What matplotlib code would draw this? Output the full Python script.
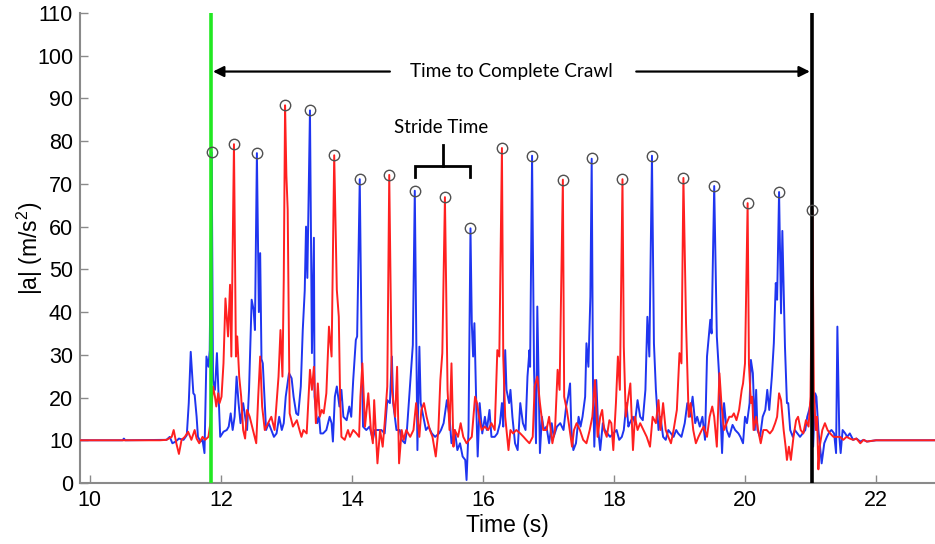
import matplotlib
matplotlib.use("Agg")
import matplotlib.pyplot as plt

plt.rcParams['font.family'] = ['Liberation Sans', 'DejaVu Sans']
plt.rcParams['mathtext.default'] = 'regular'

# ---------------- data (time s, |a| m/s^2) ----------------
blue_trace = [
    (9.85, 10.0), (10.50, 10.0), (10.52, 10.4), (10.54, 10.0), (11.07, 10.1), (11.17, 10.1), (11.22, 10.8),
    (11.26, 9.3), (11.31, 9.7), (11.36, 10.4), (11.43, 10.1), (11.48, 11.2), (11.51, 18.7), (11.54, 30.7),
    (11.58, 21.0), (11.60, 20.6), (11.63, 15.5), (11.65, 10.8), (11.69, 9.7), (11.72, 10.1), (11.75, 7.0),
    (11.78, 29.6), (11.81, 27.2), (11.83, 31.1), (11.86, 77.4), (11.88, 24.1), (11.91, 21.8), (11.94, 30.4),
    (11.96, 22.6), (11.99, 10.8), (12.04, 12.0), (12.09, 12.4), (12.12, 13.2), (12.15, 16.3), (12.18, 12.4),
    (12.21, 15.5), (12.24, 24.9), (12.27, 18.7), (12.30, 14.0), (12.34, 18.7), (12.37, 15.5), (12.40, 12.4),
    (12.43, 21.8), (12.47, 42.9), (12.50, 40.5), (12.52, 35.8), (12.55, 77.2), (12.58, 40.0), (12.60, 53.8),
    (12.62, 29.0), (12.64, 28.0), (12.69, 12.4), (12.73, 14.0), (12.77, 12.4), (12.81, 10.8), (12.85, 11.6),
    (12.89, 15.5), (12.93, 12.4), (12.96, 14.0), (12.99, 20.2), (13.04, 25.7), (13.08, 24.5), (13.11, 20.2),
    (13.15, 16.3), (13.18, 15.9), (13.22, 22.6), (13.25, 35.8), (13.28, 45.0), (13.30, 60.0), (13.32, 48.0),
    (13.36, 87.2), (13.39, 30.4), (13.42, 57.4), (13.43, 20.2), (13.47, 14.0), (13.50, 15.5), (13.52, 11.6),
    (13.56, 11.6), (13.61, 12.4), (13.66, 15.5), (13.69, 14.0), (13.71, 9.7), (13.74, 20.2), (13.77, 22.6),
    (13.81, 17.9), (13.84, 21.8), (13.87, 15.5), (13.92, 14.7), (13.96, 17.9), (13.99, 15.5), (14.02, 24.1),
    (14.06, 33.5), (14.08, 34.3), (14.12, 71.1), (14.15, 29.6), (14.17, 13.2), (14.22, 12.4), (14.27, 13.2),
    (14.32, 10.1), (14.35, 12.4), (14.40, 12.4), (14.45, 12.4), (14.50, 11.6), (14.54, 19.4), (14.58, 18.7),
    (14.61, 29.6), (14.63, 18.7), (14.68, 12.4), (14.73, 12.4), (14.76, 10.1), (14.81, 9.3), (14.84, 12.4),
    (14.89, 23.3), (14.93, 32.3), (14.96, 68.4), (15.00, 7.7), (15.03, 31.9), (15.05, 18.7), (15.09, 15.5),
    (15.13, 12.4), (15.17, 13.2), (15.22, 11.6), (15.27, 10.8), (15.33, 11.6), (15.36, 12.4), (15.40, 14.0),
    (15.45, 19.4), (15.49, 15.5), (15.52, 9.3), (15.57, 12.4), (15.61, 7.7), (15.65, 9.3), (15.69, 6.2),
    (15.73, 5.4), (15.75, 0.7), (15.78, 12.4), (15.81, 59.6), (15.83, 37.4), (15.85, 29.6), (15.87, 37.4),
    (15.90, 17.1), (15.92, 6.2), (15.95, 18.7), (15.99, 11.6), (16.03, 15.5), (16.06, 12.4), (16.10, 17.1),
    (16.13, 10.8), (16.18, 10.8), (16.22, 11.6), (16.26, 14.0), (16.29, 18.7), (16.31, 13.2), (16.34, 31.1),
    (16.36, 21.8), (16.40, 18.7), (16.42, 21.8), (16.45, 15.5), (16.49, 9.3), (16.53, 7.7), (16.57, 18.7),
    (16.61, 14.0), (16.65, 12.4), (16.68, 24.9), (16.71, 31.1), (16.72, 27.2), (16.75, 76.6), (16.78, 26.5),
    (16.81, 9.3), (16.83, 41.3), (16.85, 24.1), (16.87, 7.0), (16.90, 15.5), (16.93, 12.4), (16.97, 13.2),
    (17.01, 9.3), (17.05, 14.0), (17.08, 10.8), (17.13, 13.2), (17.18, 14.0), (17.23, 12.4), (17.27, 17.9),
    (17.30, 20.2), (17.33, 23.3), (17.35, 12.4), (17.38, 7.7), (17.42, 9.3), (17.46, 15.5), (17.49, 13.2),
    (17.52, 15.5), (17.56, 20.2), (17.58, 32.7), (17.61, 27.2), (17.64, 43.6), (17.66, 75.9), (17.68, 23.3),
    (17.70, 8.5), (17.73, 24.1), (17.76, 12.4), (17.79, 7.7), (17.83, 14.0), (17.86, 12.4), (17.90, 11.6),
    (17.94, 10.8), (17.99, 11.6), (18.04, 12.4), (18.08, 10.1), (18.12, 10.8), (18.15, 12.4), (18.19, 18.7),
    (18.22, 13.2), (18.24, 14.0), (18.29, 15.5), (18.32, 14.0), (18.36, 19.4), (18.40, 15.5), (18.44, 14.7),
    (18.48, 21.8), (18.51, 38.9), (18.54, 29.6), (18.58, 76.6), (18.61, 32.7), (18.64, 21.8), (18.68, 12.4),
    (18.71, 15.5), (18.75, 10.8), (18.79, 10.1), (18.83, 12.4), (18.87, 11.6), (18.91, 10.8), (18.95, 12.4),
    (18.98, 11.6), (19.03, 10.8), (19.08, 14.0), (19.12, 18.7), (19.16, 15.5), (19.20, 20.2), (19.24, 14.0),
    (19.27, 15.5), (19.31, 13.2), (19.35, 15.5), (19.39, 10.1), (19.42, 29.6), (19.47, 38.2), (19.49, 35.0),
    (19.53, 69.5), (19.57, 34.3), (19.60, 26.5), (19.62, 18.7), (19.65, 7.0), (19.68, 18.7), (19.72, 12.4),
    (19.76, 10.8), (19.81, 13.6), (19.85, 12.4), (19.90, 11.6), (19.93, 10.8), (19.97, 9.3), (20.00, 15.5),
    (20.03, 14.0), (20.07, 18.7), (20.09, 28.8), (20.12, 25.7), (20.15, 12.4), (20.17, 21.8), (20.19, 12.4),
    (20.23, 10.8), (20.27, 15.5), (20.31, 17.1), (20.34, 21.8), (20.37, 17.1), (20.41, 24.9), (20.44, 32.7),
    (20.47, 46.8), (20.49, 42.9), (20.52, 68.1), (20.55, 39.7), (20.57, 59.0), (20.61, 31.9), (20.64, 18.7),
    (20.66, 18.7), (20.69, 12.4), (20.73, 10.8), (20.76, 12.4), (20.80, 11.6), (20.84, 10.8), (20.88, 11.6),
    (20.92, 12.4), (20.95, 15.5), (20.98, 17.1), (21.02, 20.2), (21.04, 8.5), (21.07, 21.0), (21.09, 20.2),
    (21.12, 12.4), (21.14, 9.3), (21.17, 4.6), (21.21, 9.3), (21.25, 10.8), (21.29, 12.0), (21.32, 12.4),
    (21.36, 11.6), (21.39, 7.0), (21.41, 36.6), (21.44, 10.8), (21.46, 7.0), (21.49, 12.4), (21.53, 11.6),
    (21.56, 10.8), (21.60, 11.6), (21.65, 10.1), (21.70, 10.4), (21.76, 9.7), (21.81, 10.1), (21.86, 9.7),
    (22.00, 10.0), (22.90, 10.0),
]

red_trace = [
    (9.85, 10.0), (11.07, 10.0), (11.17, 10.1), (11.25, 10.8), (11.28, 12.4), (11.32, 9.3), (11.36, 6.8),
    (11.40, 10.1), (11.45, 10.8), (11.50, 12.0), (11.55, 10.1), (11.60, 12.4), (11.63, 10.4), (11.67, 9.3),
    (11.72, 10.8), (11.76, 10.1), (11.81, 10.8), (11.84, 14.0), (11.88, 22.6), (11.91, 20.2), (11.93, 17.9),
    (11.96, 21.0), (11.98, 18.7), (12.01, 20.2), (12.04, 28.0), (12.07, 43.2), (12.09, 38.9), (12.11, 34.3),
    (12.14, 46.4), (12.16, 29.6), (12.20, 79.3), (12.23, 29.6), (12.25, 34.3), (12.28, 24.9), (12.31, 20.2),
    (12.34, 12.4), (12.37, 10.4), (12.40, 17.1), (12.44, 15.5), (12.49, 12.4), (12.54, 9.3), (12.57, 20.2),
    (12.60, 29.6), (12.63, 17.9), (12.67, 12.4), (12.72, 14.0), (12.77, 15.5), (12.82, 12.4), (12.88, 24.9),
    (12.91, 35.8), (12.94, 24.9), (12.96, 47.6), (12.98, 88.4), (13.00, 72.0), (13.02, 64.0), (13.05, 16.3),
    (13.10, 13.2), (13.16, 14.7), (13.20, 12.4), (13.23, 10.8), (13.26, 12.4), (13.31, 11.6), (13.36, 26.5),
    (13.39, 21.8), (13.42, 27.2), (13.45, 14.0), (13.48, 23.3), (13.51, 15.5), (13.54, 17.1), (13.57, 16.3),
    (13.61, 21.0), (13.65, 36.6), (13.69, 29.6), (13.73, 76.7), (13.77, 45.2), (13.80, 38.9), (13.82, 20.2),
    (13.84, 10.8), (13.89, 10.1), (13.94, 12.4), (13.97, 10.8), (14.02, 12.4), (14.07, 11.6), (14.11, 10.8),
    (14.13, 20.2), (14.16, 28.0), (14.20, 13.2), (14.25, 21.0), (14.29, 12.4), (14.32, 9.3), (14.34, 19.4),
    (14.37, 10.8), (14.39, 4.6), (14.43, 12.4), (14.47, 8.5), (14.50, 14.0), (14.54, 22.6), (14.57, 72.1),
    (14.61, 21.8), (14.66, 15.5), (14.69, 27.2), (14.72, 4.6), (14.76, 12.4), (14.79, 10.1), (14.83, 12.4),
    (14.89, 10.8), (14.94, 12.4), (14.98, 18.7), (15.03, 10.8), (15.06, 17.1), (15.10, 18.7), (15.14, 15.5),
    (15.19, 12.4), (15.23, 10.8), (15.28, 6.2), (15.32, 12.4), (15.35, 24.1), (15.38, 30.4), (15.42, 66.9),
    (15.46, 21.8), (15.49, 12.4), (15.52, 28.0), (15.55, 8.5), (15.57, 12.4), (15.62, 10.8), (15.66, 14.0),
    (15.70, 10.8), (15.75, 9.3), (15.79, 10.1), (15.83, 10.8), (15.88, 20.2), (15.91, 18.7), (15.94, 15.5),
    (15.98, 12.4), (16.03, 13.2), (16.08, 12.4), (16.13, 14.0), (16.18, 12.4), (16.22, 31.1), (16.25, 29.6),
    (16.29, 78.4), (16.31, 29.6), (16.34, 15.5), (16.39, 7.7), (16.42, 12.4), (16.46, 11.6), (16.51, 12.4),
    (16.57, 11.6), (16.62, 10.8), (16.66, 10.1), (16.71, 9.3), (16.76, 10.8), (16.79, 22.6), (16.83, 24.9),
    (16.87, 18.7), (16.92, 12.4), (16.97, 12.4), (17.01, 15.5), (17.06, 9.3), (17.10, 12.4), (17.14, 26.5),
    (17.17, 21.8), (17.22, 71.0), (17.24, 20.2), (17.28, 17.1), (17.31, 14.0), (17.36, 8.5), (17.39, 12.4),
    (17.43, 14.0), (17.48, 12.4), (17.53, 10.1), (17.58, 9.3), (17.63, 12.4), (17.67, 15.5), (17.71, 24.1),
    (17.75, 10.8), (17.79, 15.5), (17.82, 17.1), (17.85, 12.4), (17.89, 10.8), (17.93, 14.7), (17.96, 14.0),
    (17.99, 7.7), (18.03, 18.7), (18.06, 29.6), (18.09, 21.8), (18.13, 71.1), (18.15, 31.9), (18.18, 15.5),
    (18.22, 20.2), (18.25, 23.3), (18.29, 7.7), (18.32, 15.5), (18.36, 12.4), (18.40, 14.0), (18.45, 12.4),
    (18.50, 10.8), (18.55, 8.5), (18.59, 15.5), (18.64, 14.0), (18.68, 19.4), (18.71, 12.4), (18.75, 18.7),
    (18.79, 12.4), (18.83, 10.8), (18.87, 9.3), (18.91, 12.4), (18.96, 17.1), (19.00, 30.4), (19.03, 28.0),
    (19.06, 71.4), (19.10, 37.4), (19.12, 26.5), (19.14, 15.5), (19.17, 18.7), (19.21, 12.4), (19.25, 9.3),
    (19.29, 10.8), (19.34, 12.4), (19.37, 13.2), (19.42, 10.8), (19.46, 15.5), (19.50, 17.9), (19.53, 15.5),
    (19.57, 8.5), (19.61, 25.7), (19.64, 18.7), (19.68, 12.4), (19.72, 14.0), (19.76, 15.5), (19.80, 15.5),
    (19.83, 16.3), (19.87, 14.7), (19.91, 17.1), (19.95, 21.8), (19.97, 23.3), (20.00, 28.0), (20.04, 65.5),
    (20.06, 28.0), (20.09, 18.7), (20.11, 20.2), (20.13, 12.4), (20.17, 15.5), (20.20, 12.4), (20.24, 9.3),
    (20.28, 12.4), (20.33, 12.4), (20.38, 11.6), (20.42, 12.4), (20.46, 14.0), (20.49, 15.5), (20.52, 21.0),
    (20.55, 19.4), (20.59, 12.4), (20.62, 8.5), (20.64, 5.4), (20.67, 8.5), (20.70, 5.4), (20.74, 10.8),
    (20.78, 14.7), (20.81, 15.5), (20.85, 12.4), (20.89, 11.6), (20.93, 14.7), (20.97, 13.2), (21.00, 20.2),
    (21.03, 63.9), (21.05, 21.8), (21.08, 12.4), (21.10, 15.5), (21.12, 3.2), (21.14, 8.5), (21.18, 12.4),
    (21.22, 14.0), (21.26, 12.4), (21.30, 11.6), (21.35, 10.8), (21.40, 10.8), (21.45, 10.8), (21.50, 10.1),
    (21.55, 10.8), (21.60, 10.4), (21.65, 10.1), (21.70, 10.4), (21.76, 9.3), (21.81, 10.1), (21.86, 9.7),
    (22.00, 10.0), (22.90, 10.0),
]

peak_times = [11.86, 12.20, 12.55, 12.98, 13.36, 13.73, 14.12, 14.57, 14.96, 15.42, 15.81,
              16.29, 16.75, 17.22, 17.66, 18.13, 18.58, 19.06, 19.53, 20.04, 20.52, 21.03]
peak_values = [77.4, 79.3, 77.2, 88.4, 87.2, 76.7, 71.1, 72.1, 68.4, 66.9, 59.6,
               78.4, 76.6, 71.0, 76.0, 71.1, 76.6, 71.4, 69.5, 65.5, 68.1, 63.9]

crawl_start = 11.85
crawl_end = 21.02
stride_start = 14.96
stride_end = 15.81

x_ticks = [10, 12, 14, 16, 18, 20, 22]
y_ticks = [0, 10, 20, 30, 40, 50, 60, 70, 80, 90, 100, 110]

# ---------------- figure ----------------
fig = plt.figure(figsize=(9.35, 5.44), dpi=100)
ax = fig.add_axes([80 / 935, 61 / 544, 855 / 935, 470 / 544])

bt, bv = zip(*blue_trace)
rt, rv = zip(*red_trace)
ax.plot(bt, bv, color='#1f35f0', lw=1.4, zorder=2)
ax.plot(rt, rv, color='#ff2020', lw=1.4, zorder=3)

ax.axvline(crawl_start, color='#22e822', lw=2.6, zorder=4)
ax.axvline(crawl_end, color='black', lw=2.6, zorder=4)

ax.plot(peak_times, peak_values, linestyle='none', marker='o', markersize=7.5,
        markerfacecolor='none', markeredgecolor='#505050', markeredgewidth=1.0, zorder=5)

ax.set_xlim(9.85, 22.9)
ax.set_ylim(0, 110)
ax.set_xticks(x_ticks)
ax.set_yticks(y_ticks)

for s in ['top', 'right']:
    ax.spines[s].set_visible(False)
for s in ['left', 'bottom']:
    ax.spines[s].set_color('#8a8a8a')
    ax.spines[s].set_linewidth(1.5)
ax.tick_params(direction='in', length=6, width=1.0, color='#8a8a8a',
               labelsize=15.5, labelcolor='black', pad=5)

ax.set_xlabel('Time (s)', fontsize=16.5, labelpad=2)
ax.set_ylabel('|a| (m/s$^{2}$)', fontsize=16.5, labelpad=-6)

# annotations
ann_font = ['Lato', 'DejaVu Sans']
crawl_y = 96.3
ax.text((crawl_start + crawl_end) / 2, crawl_y, 'Time to Complete Crawl', ha='center', va='center',
        fontsize=13.7, family=ann_font, color='black', zorder=6)
arrow_kw = dict(arrowstyle='-|>', color='black', lw=1.6, mutation_scale=16, shrinkA=0, shrinkB=0)
ax.annotate('', xy=(crawl_start + 0.03, crawl_y), xytext=(14.58, crawl_y), arrowprops=arrow_kw)
ax.annotate('', xy=(crawl_end - 0.03, crawl_y), xytext=(18.34, crawl_y), arrowprops=arrow_kw)

stride_mid = (stride_start + stride_end) / 2
ax.plot([stride_start, stride_start, stride_end, stride_end], [71.7, 74.1, 74.1, 71.7],
        color='black', lw=2.0, zorder=6, solid_joinstyle='miter')
ax.plot([stride_mid, stride_mid], [74.1, 79.2], color='black', lw=2.0, zorder=6)
ax.text(stride_mid - 0.03, 83.2, 'Stride Time', ha='center', va='center',
        fontsize=13.5, family=ann_font, color='black', zorder=6)

fig.savefig('out.png', dpi=100)
